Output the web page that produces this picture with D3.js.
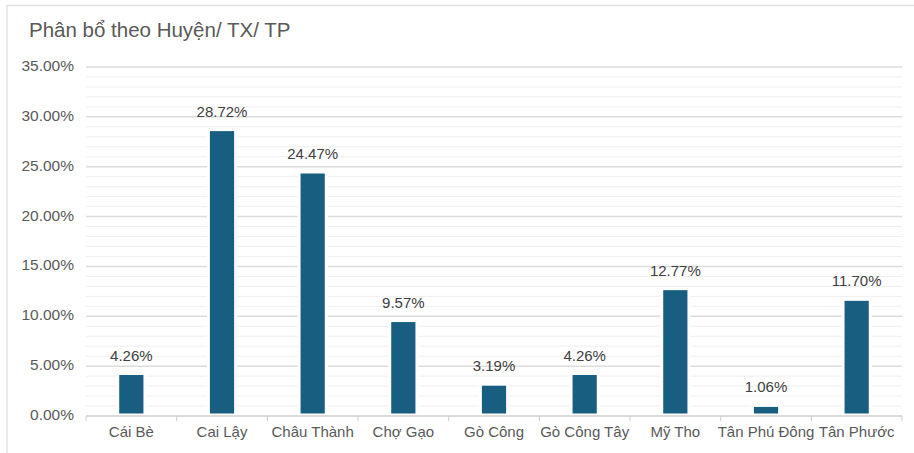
<!DOCTYPE html>
<html>
<head>
<meta charset="utf-8">
<script src="https://cdn.jsdelivr.net/npm/d3@7"></script>
<style>
  body { margin: 0; background: #fff; }
  svg { font-family: "Liberation Sans", Arial, sans-serif; }
</style>
</head>
<body>
<div id="chart"></div>
<script>
let districts = ['Cái Bè', 'Cai Lậy', 'Châu Thành', 'Chợ Gạo', 'Gò Công', 'Gò Công Tây', 'Mỹ Tho', 'Tân Phú Đông', 'Tân Phước']
let shares = [4.26, 28.72, 24.47, 9.57, 3.19, 4.26, 12.77, 1.06, 11.70]
let yTicks = [0, 5, 10, 15, 20, 25, 30, 35]
let chartTitle = 'Phân bổ theo Huyện/ TX/ TP'

let svgWidth = 914
let svgHeight = 453
let padding = { left: 86, right: 12, top: 67, bottom: 37 }

let svg = d3.select('#chart').append('svg')
    .attr('width', svgWidth)
    .attr('height', svgHeight)

// outer frame (only top + left visible in the crop)
svg.append('path')
    .attr('d', `M7,${svgHeight} L7,5.5 L${svgWidth},5.5`)
    .attr('fill', 'none')
    .attr('stroke', '#e2e2e2')
    .attr('stroke-width', 1.5)

svg.append('text')
    .attr('x', 29)
    .attr('y', 37)
    .attr('font-size', '20.5px')
    .attr('fill', '#595959')
    .text(chartTitle)

let x = d3.scaleBand()
    .domain(districts)
    .range([padding.left, svgWidth - padding.right])
    .paddingInner(0.7)
    .paddingOuter(0.35)

let y = d3.scaleLinear()
    .domain([0, 35])
    .range([svgHeight - padding.bottom, padding.top])

// minor gridlines every 1%
let minor = d3.range(1, 35).filter(d => d % 5 != 0)
svg.append('g')
    .selectAll('line')
    .data(minor)
    .enter()
    .append('line')
    .attr('x1', padding.left)
    .attr('x2', svgWidth - padding.right)
    .attr('y1', d => y(d))
    .attr('y2', d => y(d))
    .attr('stroke', '#efefef')
    .attr('stroke-width', 1)

svg.append('g')
    .selectAll('line')
    .data(yTicks.filter(d => d > 0))
    .enter()
    .append('line')
    .attr('x1', padding.left)
    .attr('x2', svgWidth - padding.right)
    .attr('y1', d => y(d))
    .attr('y2', d => y(d))
    .attr('stroke', '#dcdcdc')
    .attr('stroke-width', 1.5)

svg.append('g')
    .selectAll('text')
    .data(yTicks)
    .enter()
    .append('text')
    .attr('x', 74)
    .attr('y', d => y(d) + 4)
    .attr('text-anchor', 'end')
    .attr('font-size', '15.5px')
    .attr('fill', '#595959')
    .text(d => d.toFixed(2) + '%')

// bars
svg.append('g')
    .selectAll('rect')
    .data(shares)
    .enter()
    .append('rect')
    .attr('x', (d, i) => x(districts[i]))
    .attr('y', d => y(d))
    .attr('width', x.bandwidth())
    .attr('height', d => y(0) - y(d) - 1)
    .attr('fill', '#175e80')
    .attr('stroke', '#fff')
    .attr('stroke-width', 3)

svg.append('g')
    .selectAll('text')
    .data(shares)
    .enter()
    .append('text')
    .attr('x', (d, i) => x(districts[i]) + x.bandwidth() / 2)
    .attr('y', d => y(d) - 13)
    .attr('text-anchor', 'middle')
    .attr('font-size', '15px')
    .attr('fill', '#404040')
    .text(d => d.toFixed(2) + '%')

// category axis
let gap = (x.step() - x.bandwidth()) / 2
let bounds = districts.map(d => x(d) - gap).concat([svgWidth - padding.right])
svg.append('line')
    .attr('x1', padding.left)
    .attr('x2', svgWidth - padding.right)
    .attr('y1', y(0))
    .attr('y2', y(0))
    .attr('stroke', '#cfcfcf')
    .attr('stroke-width', 1.5)

svg.append('g')
    .selectAll('line')
    .data(bounds)
    .enter()
    .append('line')
    .attr('x1', d => d)
    .attr('x2', d => d)
    .attr('y1', y(0))
    .attr('y2', y(0) + 5)
    .attr('stroke', '#cfcfcf')
    .attr('stroke-width', 1)

svg.append('g')
    .selectAll('text')
    .data(districts)
    .enter()
    .append('text')
    .attr('x', d => x(d) + x.bandwidth() / 2)
    .attr('y', y(0) + 21)
    .attr('text-anchor', 'middle')
    .attr('font-size', '15px')
    .attr('fill', '#595959')
    .text(d => d)
</script>
</body>
</html>
